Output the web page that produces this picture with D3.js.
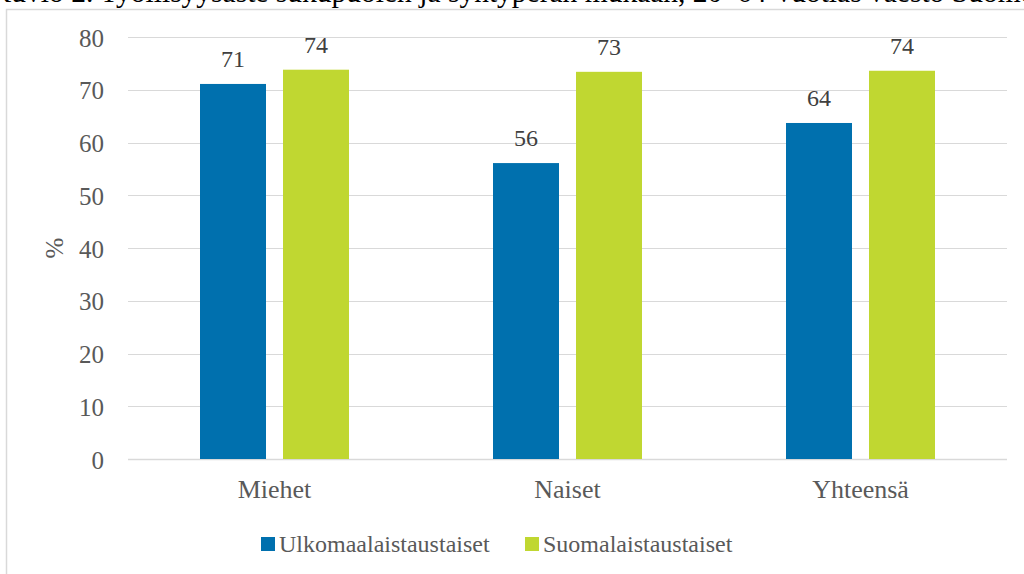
<!DOCTYPE html>
<html>
<head>
<meta charset="utf-8">
<script src="https://cdn.jsdelivr.net/npm/d3@7"></script>
<style>
  body { margin: 0; background: #fff; }
  svg { display: block; }
  text { font-family: "Liberation Serif", "Times New Roman", serif; }
</style>
</head>
<body>
<svg id="chart" width="1024" height="574"></svg>
<script>
var titleText = "Kuvio 2. Työllisyysaste sukupuolen ja syntyperän mukaan, 20–64-vuotias väestö Suomessa";
var categories = ["Miehet", "Naiset", "Yhteensä"];
var seriesNames = ["Ulkomaalaistaustaiset", "Suomalaistaustaiset"];
var ulkomaalaiset = [71.1, 56.1, 63.7];
var suomalaiset = [73.8, 73.4, 73.6];
var yTicks = [0, 10, 20, 30, 40, 50, 60, 70, 80];
var colors = ["#0070ae", "#c0d731"];

var svg = d3.select("#chart");
var margin = { left: 128, right: 17, top: 37, bottom: 115 };
var width = 1024, height = 574;

// title, its top half lies above the picture
svg.append("text")
  .attr("x", -10).attr("y", 2)
  .attr("font-size", 29.5)
  .attr("fill", "#000")
  .text(titleText);

// frame
svg.append("path")
  .attr("d", "M6.5,574 V9.5 H1024")
  .attr("fill", "none")
  .attr("stroke", "#d9d9d9")
  .attr("stroke-width", 1.5);

var x = d3.scaleBand()
  .domain(categories)
  .range([margin.left, width - margin.right]);

var y = d3.scaleLinear()
  .domain([0, 80])
  .range([height - margin.bottom, margin.top]);

// grid
svg.append("g").selectAll("line")
  .data(yTicks).enter().append("line")
  .attr("x1", margin.left).attr("x2", width - margin.right)
  .attr("y1", function(d) { return Math.round(y(d)) + 0.5; })
  .attr("y2", function(d) { return Math.round(y(d)) + 0.5; })
  .attr("stroke", "#d9d9d9")
  .attr("stroke-width", function(d) { return d === 0 ? 1.5 : 1.2; });

// y tick labels
svg.append("g").selectAll("text")
  .data(yTicks).enter().append("text")
  .attr("x", 104)
  .attr("y", function(d) { return y(d) + 9.5; })
  .attr("text-anchor", "end")
  .attr("font-size", 25)
  .attr("fill", "#595959")
  .text(function(d) { return d; });

// y axis title
svg.append("text")
  .attr("transform", "translate(63,248) rotate(-90)")
  .attr("text-anchor", "middle")
  .attr("font-size", 25)
  .attr("fill", "#595959")
  .text("%");

var barW = 66, gap = 17;
var series = [ulkomaalaiset, suomalaiset];

series.forEach(function(vals, s) {
  var g = svg.append("g");
  var offset = s === 0 ? -gap / 2 - barW : gap / 2;
  g.selectAll("rect")
    .data(vals).enter().append("rect")
    .attr("x", function(d, i) { return x(categories[i]) + x.bandwidth() / 2 + offset; })
    .attr("y", function(d) { return y(d); })
    .attr("width", barW)
    .attr("height", function(d) { return y(0) - y(d); })
    .attr("fill", colors[s]);
  g.selectAll("text")
    .data(vals).enter().append("text")
    .attr("x", function(d, i) { return x(categories[i]) + x.bandwidth() / 2 + offset + barW / 2; })
    .attr("y", function(d) { return y(d) - 17; })
    .attr("text-anchor", "middle")
    .attr("font-size", 24)
    .attr("fill", "#404040")
    .text(function(d) { return Math.round(d); });
});

// category labels
svg.append("g").selectAll("text")
  .data(categories).enter().append("text")
  .attr("x", function(d) { return x(d) + x.bandwidth() / 2; })
  .attr("y", 498)
  .attr("text-anchor", "middle")
  .attr("font-size", 26)
  .attr("fill", "#595959")
  .text(function(d) { return d; });

// legend
var legendX = [261, 525];
var lg = svg.append("g").selectAll("g")
  .data(seriesNames).enter().append("g")
  .attr("transform", function(d, i) { return "translate(" + legendX[i] + ",537)"; });
lg.append("rect")
  .attr("width", 14).attr("height", 14)
  .attr("fill", function(d, i) { return colors[i]; });
lg.append("text")
  .attr("x", 18).attr("y", 15)
  .attr("font-size", 24)
  .attr("fill", "#595959")
  .text(function(d) { return d; });
</script>
</body>
</html>
